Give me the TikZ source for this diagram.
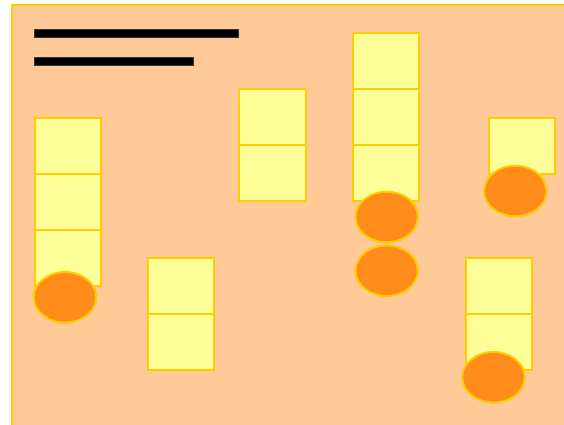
\documentclass[tikz,border=0pt]{standalone}
\usetikzlibrary{shapes.geometric}
\definecolor{peach}{HTML}{FFCA98}
\definecolor{gold}{HTML}{FFCC00}
\definecolor{paleyellow}{HTML}{FFFF99}
\definecolor{deeporange}{HTML}{FF8C1A}
\tikzset{
  cell/.style={rectangle, draw=gold, fill=paleyellow, line width=2pt, inner sep=0pt, minimum width=66.5pt, minimum height=56pt},
  disc/.style={ellipse, draw=gold, fill=deeporange, line width=2pt, inner sep=0pt, minimum width=62.5pt, minimum height=50.5pt},
  bar/.style={rectangle, draw=black!80, fill=black, line width=0.4pt, inner sep=0pt, minimum height=8pt, anchor=west}
}
\begin{document}
\begin{tikzpicture}[x=1pt,y=-1pt]
\useasboundingbox (0,0) rectangle (564,425);
\clip (0,0) rectangle (564,425);
\draw[draw=gold, fill=peach, line width=2pt] (11.7,5.2) rectangle (575,440);
% bars
\node[bar, minimum width=204pt] (bar1) at (34,33.3) {};
\node[bar, minimum width=158.7pt] (bar2) at (34,61.3) {};
% column A
\node[cell] (a1) at (68,145.5) {};
\node[cell] (a2) at (68,201.5) {};
\node[cell] (a3) at (68,257.5) {};
\node[disc] (ea) at (65,297.3) {};
% column B
\node[cell] (b1) at (181,286) {};
\node[cell] (b2) at (181,342) {};
% column C
\node[cell] (c1) at (272.5,117.3) {};
\node[cell] (c2) at (272.5,173.3) {};
% column D
\node[cell] (d1) at (386,61.3) {};
\node[cell] (d2) at (386,117.3) {};
\node[cell] (d3) at (386,173.3) {};
\node[disc] (ed1) at (386.7,217) {};
\node[disc] (ed2) at (386.7,270.7) {};
% column E
\node[cell] (e1) at (522,145.5) {};
\node[disc] (ee) at (515.3,191) {};
% column F
\node[cell] (f1) at (499,286) {};
\node[cell] (f2) at (499,342) {};
\node[disc] (ef) at (493.5,377.3) {};
\end{tikzpicture}
\end{document}
